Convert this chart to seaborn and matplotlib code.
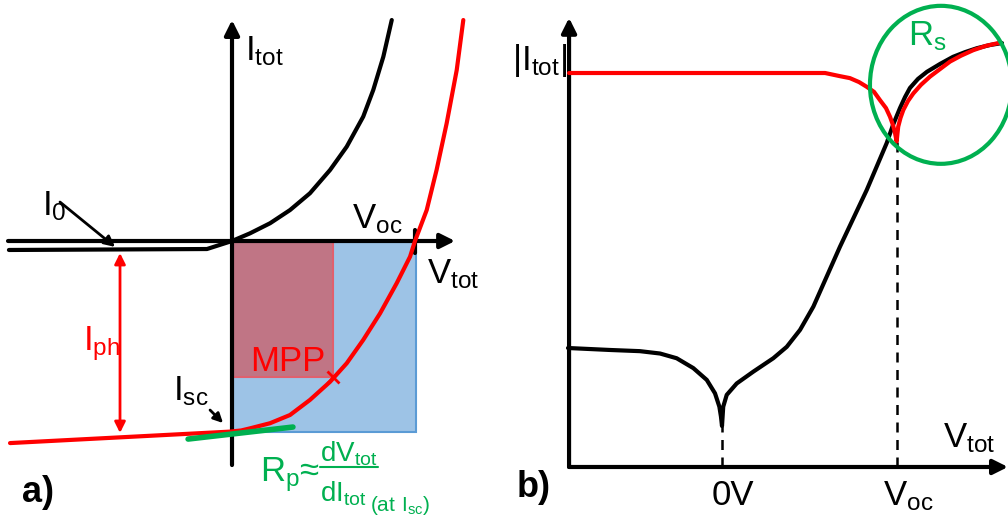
import matplotlib
matplotlib.use('Agg')
import matplotlib.pyplot as plt
from matplotlib.patches import Rectangle, Ellipse
import seaborn as sns

# ---- panel a) I-V curves, V in units of Voc, I in units of Isc ----
dark_v = [-1.219, -0.137, 0.0, 0.098, 0.208, 0.317, 0.426, 0.536, 0.627,
          0.717, 0.772, 0.827, 0.873]
dark_i = [-0.047, -0.042, 0.0, 0.040, 0.093, 0.162, 0.250, 0.372, 0.494,
          0.651, 0.791, 0.965, 1.157]

light_v = [-1.213, -0.011, 0.050, 0.098, 0.208, 0.317, 0.426, 0.536, 0.627,
           0.717, 0.809, 0.900, 0.973, 1.0, 1.064, 1.118, 1.173, 1.228, 1.264]
light_i = [-1.058, -0.998, -0.992, -0.981, -0.954, -0.911, -0.832, -0.737, -0.640,
           -0.518, -0.379, -0.221, -0.082, 0.0, 0.162, 0.372, 0.616, 0.895, 1.157]

mpp_v, mpp_i = 0.552, -0.714
voc_a, isc_a = 1.008, -1.0
tangent_v = [-0.240, 0.333]
tangent_i = [-1.037, -0.974]

# ---- panel b) |I| vs V ----
bd_v = [-0.880, -0.640, -0.469, -0.354, -0.259, -0.164, -0.087, -0.040, -0.015,
        -0.006, 0.0, 0.007, 0.027, 0.084, 0.179, 0.293, 0.370, 0.446, 0.522,
        0.598, 0.674, 0.827, 0.941, 0.977, 1.017, 1.046, 1.074, 1.120, 1.171,
        1.246, 1.320, 1.389, 1.457, 1.531, 1.600]
bd_i = [0.302, 0.297, 0.294, 0.288, 0.276, 0.251, 0.221, 0.187, 0.153,
        0.128, 0.104, 0.153, 0.183, 0.212, 0.242, 0.276, 0.305, 0.348, 0.407,
        0.483, 0.559, 0.703, 0.822, 0.868, 0.911, 0.939, 0.962, 0.985, 1.003,
        1.023, 1.041, 1.053, 1.063, 1.071, 1.076]

bl_v = [-0.874, 0.589, 0.674, 0.731, 0.783, 0.827, 0.869, 0.903, 0.937, 0.960,
        0.977, 0.989, 0.998, 1.003, 1.007, 1.020, 1.036, 1.063, 1.093, 1.137,
        1.189, 1.246, 1.303, 1.366, 1.436, 1.509, 1.589]
bl_i = [1.0, 1.0, 0.992, 0.987, 0.977, 0.965, 0.952, 0.931, 0.911, 0.889,
        0.868, 0.847, 0.826, 0.848, 0.864, 0.886, 0.906, 0.929, 0.948, 0.970,
        0.991, 1.010, 1.029, 1.044, 1.058, 1.069, 1.077]

cusp_b = (0.0, 0.104)
voc_b = (1.0, 0.826)

RED = '#FF0000'
GREEN = '#00B050'
LW = 3

sns.set_theme(style='white')
plt.rcParams['font.family'] = ['Liberation Sans', 'DejaVu Sans']
plt.rcParams['text.color'] = 'black'
plt.rcParams['mathtext.fontset'] = 'custom'
plt.rcParams['mathtext.rm'] = 'Liberation Sans'

fig = plt.figure(figsize=(10.08, 5.16), dpi=100)
ax_a = fig.add_axes([0, 0, 500 / 1008, 1])
ax_b = fig.add_axes([500 / 1008, 0, 508 / 1008, 1])
for ax in (ax_a, ax_b):
    ax.set_axis_off()
ax_a.set_xlim(-1.2678, 1.4645)
ax_a.set_ylim(-1.4398, 1.2618)
ax_b.set_xlim(-1.2686, 1.6343)
ax_b.set_ylim(-0.1244, 1.1853)


def arrow(ax, start, tip, color='black', lw=LW, style='-|>', scale=22, z=5):
    ax.annotate('', xy=tip, xytext=start,
                arrowprops=dict(arrowstyle=style, color=color, lw=lw,
                                mutation_scale=scale, shrinkA=0, shrinkB=0),
                zorder=z)


# ---------- panel a ----------
ax_a.add_patch(Rectangle((0, isc_a), voc_a, -isc_a, facecolor='#9DC3E6',
                         edgecolor='#5B9BD5', lw=1.5, zorder=1))
ax_a.add_patch(Rectangle((0, mpp_i), mpp_v, -mpp_i, facecolor='#C07585',
                         edgecolor='#E0606E', lw=1.5, zorder=2))

arrow(ax_a, (-1.224, 0), (1.219, 0))
arrow(ax_a, (0, -1.173), (0, 1.157))
ax_a.plot([1.0, 1.0], [0.058, -0.063], color='black', lw=LW, zorder=6)

sns.lineplot(x=dark_v, y=dark_i, sort=False, estimator=None, color='black',
             lw=LW, ax=ax_a, zorder=6, solid_joinstyle='round')
sns.lineplot(x=light_v, y=light_i, sort=False, estimator=None, color=RED,
             lw=LW, ax=ax_a, zorder=7, solid_joinstyle='round')
ax_a.plot(tangent_v, tangent_i, color=GREEN, lw=4, zorder=8)
ax_a.plot([mpp_v], [mpp_i], marker='x', color=RED, ms=9, mew=2, zorder=8)

arrow(ax_a, (-0.612, -0.063), (-0.612, -1.005), color=RED, lw=2, style='<|-|>', scale=16)
arrow(ax_a, (-0.940, 0.204), (-0.639, -0.031), lw=2, scale=16)
arrow(ax_a, (-0.120, -0.885), (-0.049, -0.953), lw=2, scale=14)

fs = 25
ax_a.text(0.071, 0.948, r'$\mathregular{I_{tot}}$', fontsize=fs, va='baseline')
ax_a.text(0.656, 0.068, r'$\mathregular{V_{oc}}$', fontsize=fs, va='baseline')
ax_a.text(1.066, -0.220, r'$\mathregular{V_{tot}}$', fontsize=fs, va='baseline')
ax_a.text(-1.038, 0.136, r'$\mathregular{I_0}$', fontsize=fs, va='baseline')
ax_a.text(-0.814, -0.571, r'$\mathregular{I_{ph}}$', fontsize=fs, va='baseline', color=RED)
ax_a.text(-0.322, -0.832, r'$\mathregular{I_{sc}}$', fontsize=fs, va='baseline')
ax_a.text(0.098, -0.681, 'MPP', fontsize=fs, va='baseline', color=RED, zorder=9)
ax_a.text(-1.148, -1.366, 'a)', fontsize=26, fontweight='bold', va='baseline')

ax_a.text(0.153, -1.257, r'$\mathregular{R_p}$≈', fontsize=fs, va='baseline', color=GREEN)
ax_a.text(0.481, -1.157, r'$\mathregular{dV_{tot}}$', fontsize=20, va='baseline', color=GREEN)
ax_a.plot([0.481, 0.798], [-1.183, -1.183], color=GREEN, lw=1.5)
ax_a.text(0.481, -1.366, r'$\mathregular{dI_{tot}}$', fontsize=20, va='baseline', color=GREEN)
ax_a.text(0.754, -1.414, r'$\mathregular{(at\ I_{sc})}$', fontsize=15, va='baseline', color=GREEN)

# ---------- panel b ----------
arrow(ax_b, (-0.874, 0), (1.634, 0))
arrow(ax_b, (-0.874, 0), (-0.874, 1.140))

ax_b.plot([cusp_b[0], cusp_b[0]], [0, cusp_b[1]], color='black', lw=1.8,
          ls=(0, (4, 3)), zorder=3)
ax_b.plot([voc_b[0], voc_b[0]], [0, voc_b[1]], color='black', lw=1.8,
          ls=(0, (4, 3)), zorder=3)

sns.lineplot(x=bd_v, y=bd_i, sort=False, estimator=None, color='black',
             lw=LW, ax=ax_b, zorder=6, solid_joinstyle='round')
sns.lineplot(x=bl_v, y=bl_i, sort=False, estimator=None, color=RED,
             lw=LW, ax=ax_b, zorder=7, solid_joinstyle='round')

ax_b.add_patch(Ellipse((1.251, 0.970), 0.811, 0.401, facecolor='none',
                       edgecolor=GREEN, lw=LW, zorder=8))

ax_b.text(-1.2, 1.008, r'$\mathregular{|I_{tot}|}$', fontsize=fs, va='baseline')
ax_b.text(1.063, 1.071, r'$\mathregular{R_s}$', fontsize=fs, va='baseline', color=GREEN)
ax_b.text(-0.057, -0.096, '0V', fontsize=fs, va='baseline')
ax_b.text(0.92, -0.096, r'$\mathregular{V_{oc}}$', fontsize=fs, va='baseline')
ax_b.text(1.263, 0.051, r'$\mathregular{V_{tot}}$', fontsize=fs, va='baseline')
ax_b.text(-1.171, -0.076, 'b)', fontsize=26, fontweight='bold', va='baseline')

fig.savefig('out.png', dpi=100)
